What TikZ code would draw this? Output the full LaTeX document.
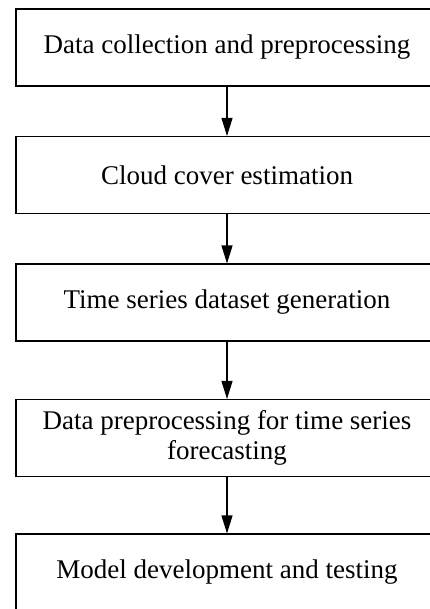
\documentclass[tikz,border=0pt]{standalone}
\usepackage{fontspec}
\setmainfont{Liberation Serif}
\usetikzlibrary{arrows.meta}
\begin{document}
\begin{tikzpicture}[x=1pt,y=1pt,
  stepbox/.style={draw=black,line width=1.1pt,minimum width=422pt,minimum height=77pt,
    inner sep=0pt,align=center,font=\fontsize{27}{30}\selectfont},
  flow/.style={line width=1.1pt,-{Triangle[length=18pt,width=11pt]}}]
\useasboundingbox (0,0) rectangle (430,-609);
\clip (0,0) rectangle (430,-609);
\node[stepbox] (b1) at (227,-47.5) {Data collection and preprocessing};
\node[stepbox] (b2) at (227,-175) {Cloud cover estimation};
\node[stepbox] (b3) at (227,-302.5) {Time series dataset generation};
\node[stepbox] (b4) at (227,-438) {Data preprocessing for time series\\forecasting};
\node[stepbox] (b5) at (227,-572.5) {Model development and testing};
\draw[flow] (b1) -- (b2);
\draw[flow] (b2) -- (b3);
\draw[flow] (b3) -- (b4);
\draw[flow] (b4) -- (b5);
\end{tikzpicture}
\end{document}
